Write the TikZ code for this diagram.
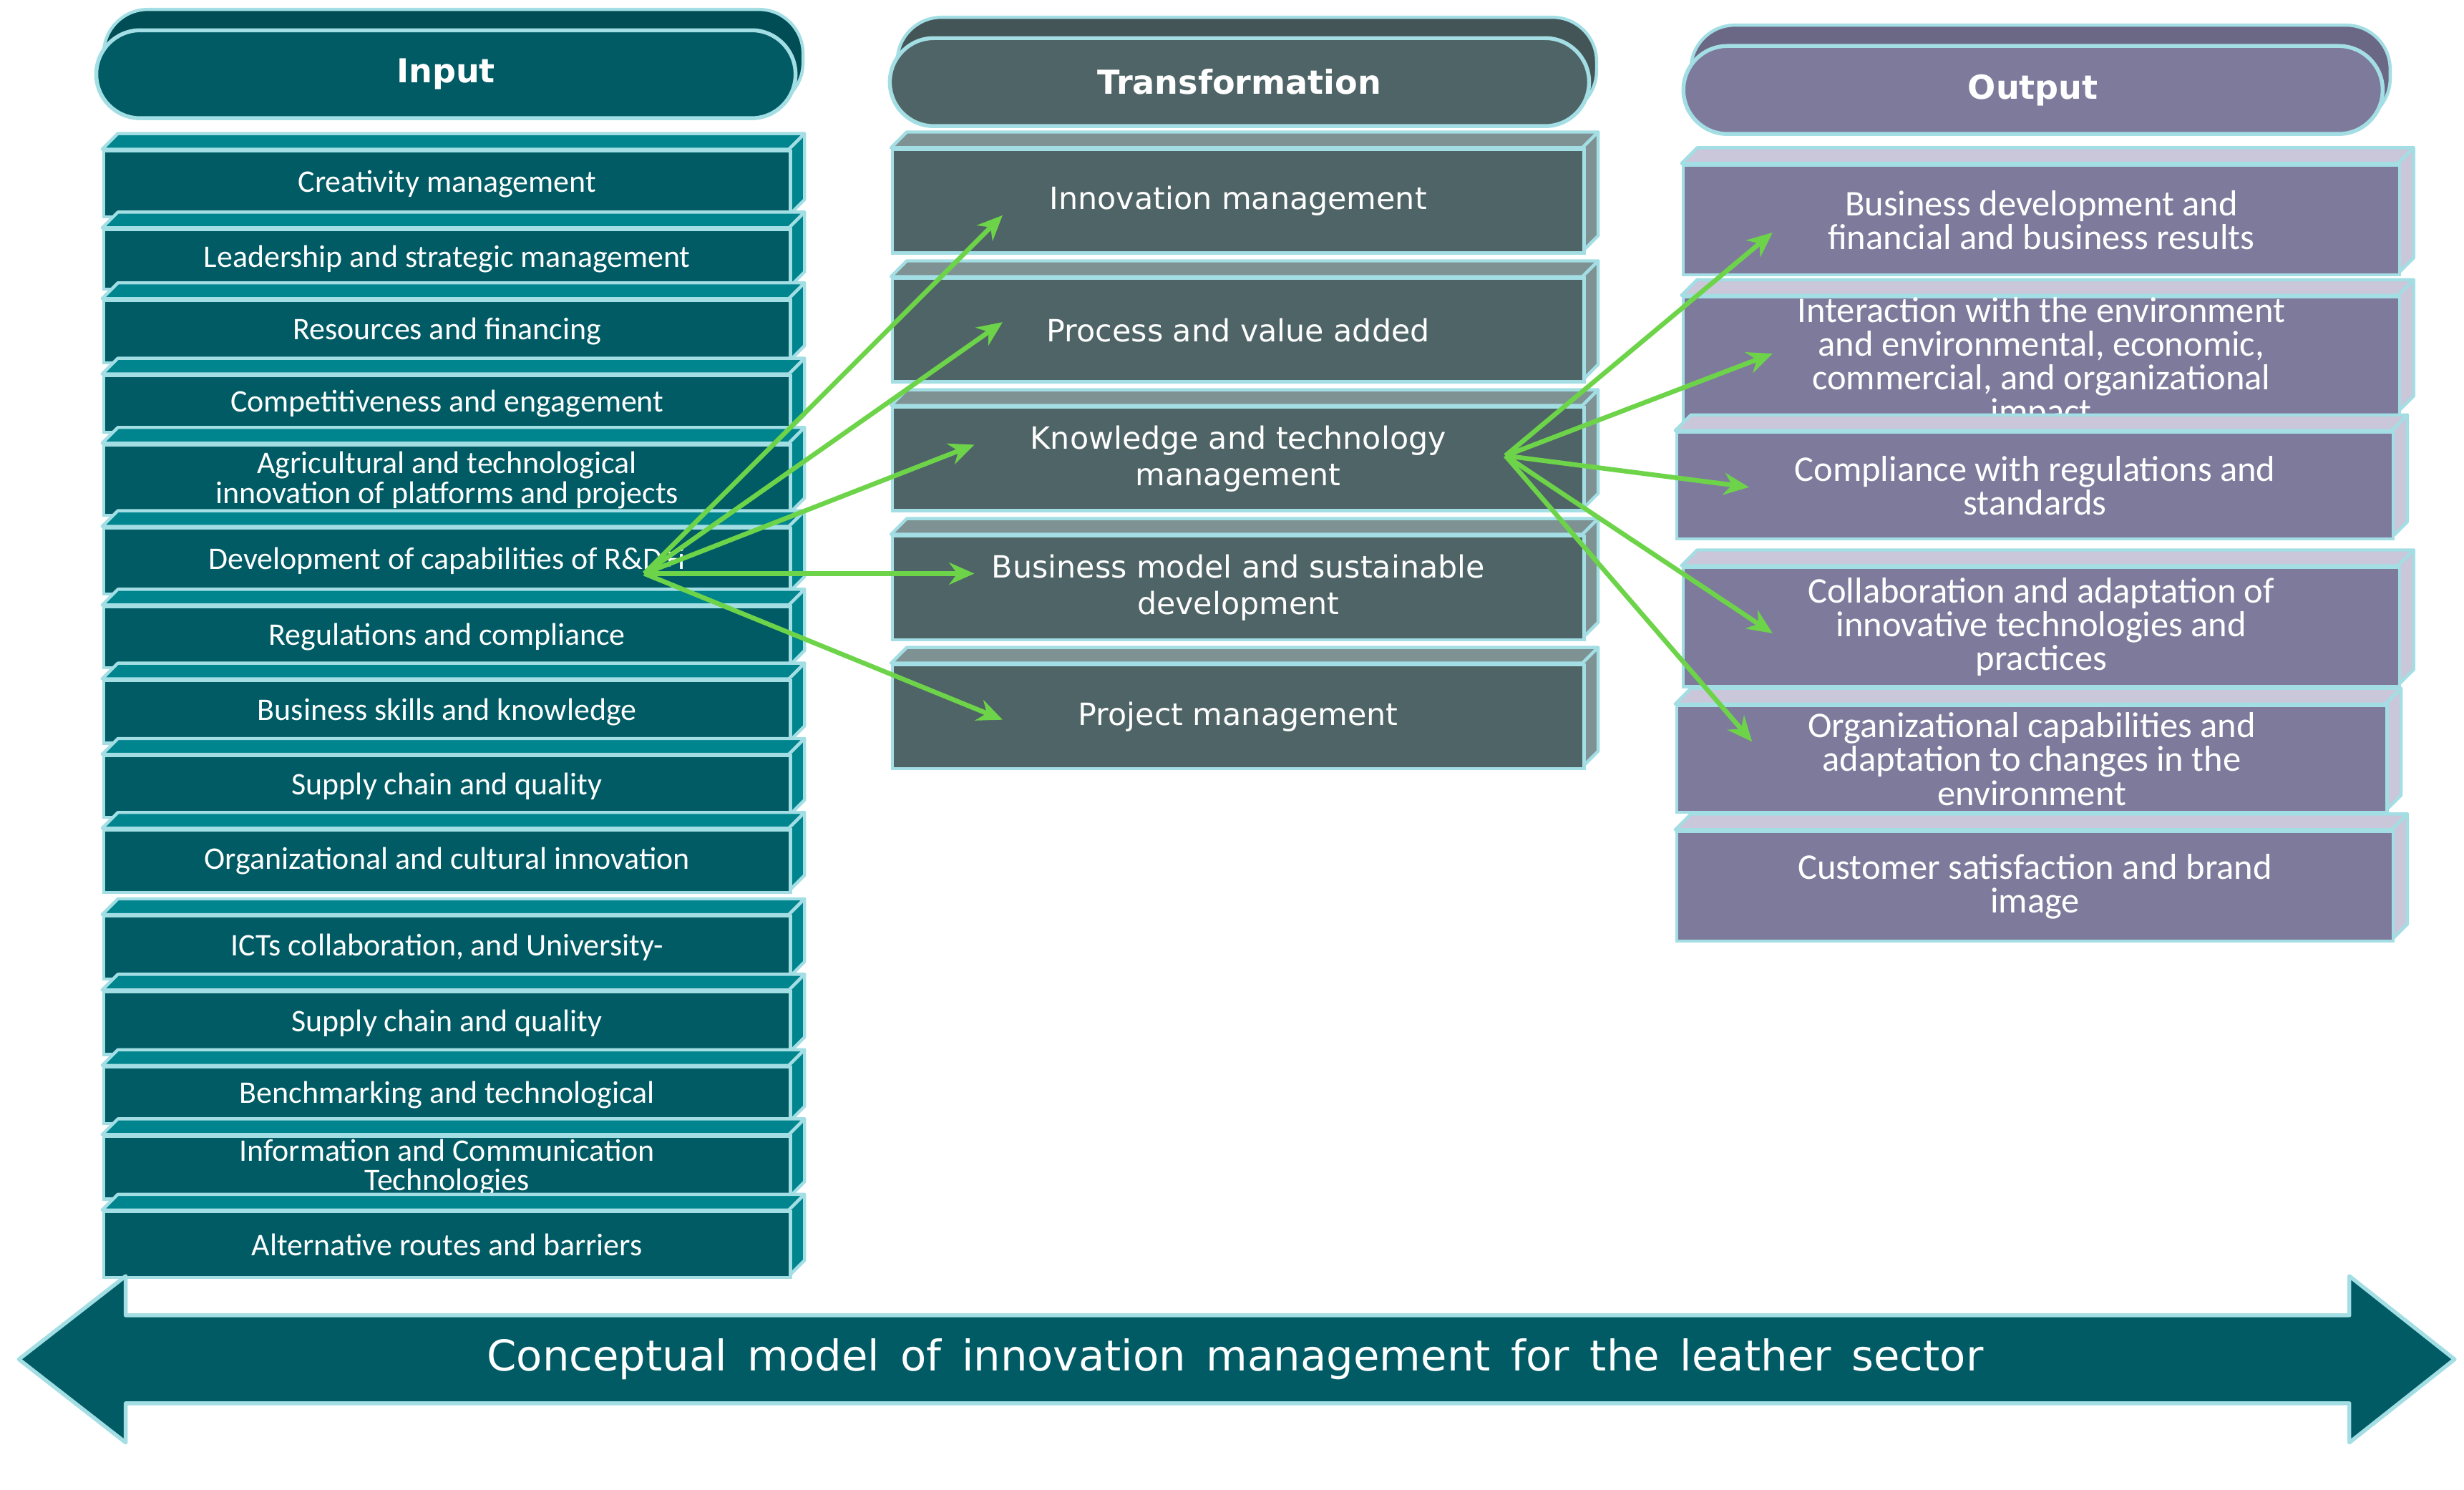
\documentclass[tikz,border=0pt]{standalone}
\usepackage{fontspec}
\setmainfont{Carlito}
\newfontfamily\dv{DejaVu Sans}
\usetikzlibrary{arrows.meta}
\definecolor{edge}{HTML}{A3DEE4}
\definecolor{inF}{HTML}{005B64}
\definecolor{inT}{HTML}{00848E}
\definecolor{trF}{HTML}{4F6466}
\definecolor{trT}{HTML}{7E9294}
\definecolor{ouF}{HTML}{7E7A9C}
\definecolor{ouT}{HTML}{C9C7D9}
\definecolor{arr}{HTML}{6DD44A}
\newcommand\slab[9]{%
 \fill[#7,draw=edge,line width=2pt,line join=round] (#2,#3+10)--(#2+10,#3)--(#2+#4,#3)--(#2+#4-10,#3+10)--cycle;
 \fill[#7,draw=edge,line width=2pt,line join=round] (#2+#4-10,#3+10)--(#2+#4,#3)--(#2+#4,#3+#5-10)--(#2+#4-10,#3+#5)--cycle;
 \node[#9,draw=edge,line width=2pt,fill=#6,minimum width=#4pt-10pt,minimum height=#5pt-10pt,anchor=north west,inner sep=0pt] (#1) at (#2,#3+10) {#8};}
\newcommand\pill[6]{%
 \fill[#5!85!black,draw=edge,line width=2pt,rounded corners=28pt] (#2+6,#3-6) rectangle (#2+#4+6,#3+56);
 \node[draw=edge,line width=2.5pt,fill=#5,rounded corners=28pt,minimum width=#4pt,minimum height=56pt,anchor=north west,text=white,font=\dv\bfseries\fontsize{21}{24}\selectfont] (#1) at (#2,#3+6) {#6};}
\tikzset{
 inS/.style={text=white,align=center,font=\fontsize{20}{19}\selectfont},
 trS/.style={text=white,align=center,font=\dv\fontsize{19.5}{23}\selectfont},
 ouS/.style={text=white,align=center,font=\fontsize{23}{21.5}\selectfont},
 ar/.style={draw=arr,line width=3pt,-{Stealth[length=16pt,width=14pt]}}}
\begin{document}
\begin{tikzpicture}[x=1pt,y=-1pt]
\useasboundingbox (0,0) rectangle (1568,948);
\pill{pin}{60}{12}{445}{inF}{Input}
\pill{ptr}{565}{17}{445}{trF}{Transformation}
\pill{pou}{1070}{22}{445}{ouF}{Output}
% input column
\slab{i1}{65}{85}{447}{52}{inF}{inT}{Creativity management}{inS}
\slab{i2}{65}{135}{447}{48}{inF}{inT}{Leadership and strategic management}{inS}
\slab{i3}{65}{180}{447}{50}{inF}{inT}{Resources and financing}{inS}
\slab{i4}{65}{228}{447}{46}{inF}{inT}{Competitiveness and engagement}{inS}
\slab{i5}{65}{272}{447}{55}{inF}{inT}{Agricultural and technological\\innovation of platforms and projects}{inS}
\slab{i6}{65}{325}{447}{52}{inF}{inT}{Development of capabilities of R\&D+i}{inS}
\slab{i7}{65}{375}{447}{49}{inF}{inT}{Regulations and compliance}{inS}
\slab{i8}{65}{422}{447}{50}{inF}{inT}{Business skills and knowledge}{inS}
\slab{i9}{65}{470}{447}{49}{inF}{inT}{Supply chain and quality}{inS}
\slab{i10}{65}{517}{447}{50}{inF}{inT}{Organizational and cultural innovation}{inS}
\slab{i11}{65}{572}{447}{50}{inF}{inT}{ICTs collaboration, and University-}{inS}
\slab{i12}{65}{620}{447}{50}{inF}{inT}{Supply chain and quality}{inS}
\slab{i13}{65}{668}{447}{46}{inF}{inT}{Benchmarking and technological}{inS}
\slab{i14}{65}{712}{447}{50}{inF}{inT}{Information and Communication\\Technologies}{inS}
\slab{i15}{65}{760}{447}{52}{inF}{inT}{Alternative routes and barriers}{inS}
% transformation column
\slab{t1}{567}{84}{450}{76}{trF}{trT}{Innovation management}{trS}
\slab{t2}{567}{166}{450}{76}{trF}{trT}{Process and value added}{trS}
\slab{t3}{567}{248}{450}{76}{trF}{trT}{Knowledge and technology\\management}{trS}
\slab{t4}{567}{330}{450}{76}{trF}{trT}{Business model and sustainable\\development}{trS}
\slab{t5}{567}{412}{450}{76}{trF}{trT}{Project management}{trS}
% output column
\slab{o1}{1070}{94}{466}{80}{ouF}{ouT}{Business development and\\financial and business results}{ouS}
\slab{o2}{1070}{178}{466}{84}{ouF}{ouT}{Interaction with the environment\\and environmental, economic,\\commercial, and organizational\\impact}{ouS}
\slab{o3}{1066}{264}{466}{78}{ouF}{ouT}{Compliance with regulations and\\standards}{ouS}
\slab{o4}{1070}{350}{466}{86}{ouF}{ouT}{Collaboration and adaptation of\\innovative technologies and\\practices}{ouS}
\slab{o5}{1066}{438}{462}{78}{ouF}{ouT}{Organizational capabilities and\\adaptation to changes in the\\environment}{ouS}
\slab{o6}{1066}{518}{466}{80}{ouF}{ouT}{Customer satisfaction and brand\\image}{ouS}
% arrows
\coordinate (s1) at (410,365);
\coordinate (s2) at (958,290);
\coordinate (e1) at (638,137);
\coordinate (e2) at (638,205);
\coordinate (e3) at (620,283);
\coordinate (e4) at (620,365);
\coordinate (e5) at (638,458);
\coordinate (f1) at (1128,148);
\coordinate (f2) at (1128,225);
\coordinate (f3) at (1113,310);
\coordinate (f4) at (1128,403);
\coordinate (f5) at (1115,472);
\foreach \e in {e1,e2,e3,e4,e5} \draw[ar] (s1) -- (\e);
\foreach \f in {f1,f2,f3,f4,f5} \draw[ar] (s2) -- (\f);
% bottom arrow
\fill[inF,draw=edge,line width=2.5pt,line join=round] (12,865)--(80,812)--(80,837)--(1495,837)--(1495,812)--(1562,865)--(1495,918)--(1495,893)--(80,893)--(80,918)--cycle;
\node[text=white,font=\dv\fontsize{27}{30}\selectfont] (cap) at (786,865) {Conceptual\, model\, of\, innovation\, management\, for\, the\, leather\, sector};
\end{tikzpicture}
\end{document}
